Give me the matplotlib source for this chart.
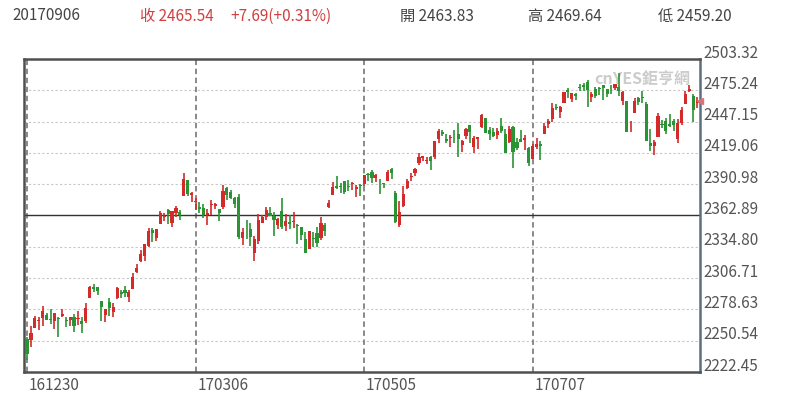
import matplotlib.pyplot as plt
from matplotlib.transforms import ScaledTranslation

plt.rcParams['font.family'] = ['Noto Sans CJK TC', 'DejaVu Sans']

# S&P 500 daily candles, 2016-12-30 .. 2017-09-06 (one row per trading day)
opens = [2251.61, 2251.57, 2261.60, 2268.18, 2271.14, 2273.59, 2269.72, 2268.60, 2271.14, 2272.74,
         2269.14, 2269.14, 2271.90, 2269.96, 2267.78, 2267.88, 2288.88, 2298.63, 2299.02, 2286.01,
         2274.02, 2285.59, 2276.69, 2288.54, 2294.28, 2295.87, 2289.55, 2296.70, 2312.27, 2321.72,
         2326.12, 2335.58, 2349.64, 2343.01, 2354.91, 2361.11, 2367.50, 2355.73, 2365.23, 2366.08,
         2380.13, 2394.75, 2380.92, 2375.23, 2370.74, 2369.81, 2363.49, 2372.52, 2371.56, 2368.55,
         2370.34, 2387.71, 2383.71, 2378.24, 2379.32, 2343.00, 2345.97, 2350.42, 2329.11, 2339.79,
         2356.54, 2361.31, 2364.82, 2362.34, 2354.76, 2366.59, 2353.79, 2356.59, 2357.16, 2353.92,
         2352.15, 2341.98, 2332.62, 2342.53, 2346.79, 2342.69, 2354.74, 2370.33, 2381.51, 2388.98,
         2389.70, 2393.68, 2388.50, 2391.05, 2386.50, 2389.79, 2391.37, 2399.94, 2401.58, 2396.79,
         2394.84, 2392.44, 2393.98, 2404.55, 2382.95, 2354.69, 2371.37, 2387.21, 2397.04, 2401.41,
         2409.54, 2414.50, 2411.67, 2415.63, 2415.65, 2431.28, 2437.83, 2431.92, 2432.03, 2434.27,
         2436.39, 2425.88, 2434.15, 2443.75, 2424.14, 2431.24, 2442.55, 2450.66, 2439.31, 2437.40,
         2434.65, 2443.32, 2436.34, 2428.70, 2442.38, 2429.20, 2431.39, 2430.78, 2423.44, 2413.52,
         2424.51, 2427.35, 2435.75, 2444.99, 2449.16, 2459.50, 2455.88, 2463.85, 2475.56, 2467.40,
         2472.04, 2477.88, 2479.97, 2482.76, 2469.12, 2475.94, 2477.10, 2480.38, 2476.03, 2476.88,
         2477.14, 2478.35, 2465.35, 2465.38, 2441.04, 2454.96, 2468.66, 2468.63, 2462.95, 2427.64,
         2425.50, 2433.75, 2444.88, 2447.91, 2444.72, 2447.35, 2431.94, 2446.06, 2462.65, 2474.42,
         2470.35, 2463.83]
highs = [2253.58, 2263.88, 2272.82, 2271.50, 2282.10, 2275.49, 2279.27, 2275.32, 2271.78, 2278.68,
         2272.08, 2272.01, 2274.33, 2276.96, 2271.78, 2284.63, 2299.55, 2300.99, 2299.02, 2286.01,
         2279.09, 2289.14, 2283.97, 2298.31, 2296.18, 2299.40, 2295.91, 2311.08, 2319.23, 2331.58,
         2337.58, 2351.30, 2351.31, 2351.16, 2366.71, 2365.13, 2368.26, 2367.34, 2371.54, 2367.79,
         2400.98, 2394.75, 2383.89, 2378.80, 2375.12, 2373.09, 2369.08, 2376.86, 2374.42, 2368.55,
         2390.01, 2388.10, 2385.71, 2379.55, 2381.93, 2351.81, 2358.92, 2356.22, 2344.90, 2363.78,
         2363.36, 2370.42, 2370.35, 2365.87, 2360.53, 2378.36, 2364.16, 2363.76, 2366.37, 2355.22,
         2352.72, 2348.26, 2349.14, 2348.35, 2352.63, 2361.37, 2356.18, 2376.98, 2392.48, 2398.16,
         2392.10, 2393.68, 2394.49, 2392.93, 2389.82, 2391.43, 2399.29, 2401.36, 2403.87, 2399.74,
         2395.72, 2392.44, 2404.05, 2405.77, 2384.87, 2375.74, 2389.06, 2395.46, 2400.85, 2405.58,
         2418.71, 2416.68, 2415.26, 2415.99, 2430.06, 2440.23, 2439.55, 2436.21, 2435.28, 2439.27,
         2446.20, 2430.38, 2441.49, 2443.75, 2433.95, 2433.15, 2453.82, 2450.66, 2442.23, 2441.62,
         2441.40, 2450.42, 2440.15, 2442.97, 2442.73, 2432.71, 2439.17, 2434.90, 2424.28, 2426.92,
         2432.00, 2429.30, 2445.76, 2449.32, 2463.54, 2462.82, 2460.92, 2473.83, 2477.62, 2472.54,
         2473.10, 2481.24, 2481.69, 2484.04, 2473.53, 2477.96, 2478.51, 2480.38, 2476.03, 2480.00,
         2480.95, 2490.87, 2474.41, 2465.38, 2448.09, 2468.22, 2468.90, 2474.93, 2465.02, 2440.27,
         2430.58, 2454.77, 2448.91, 2450.39, 2453.96, 2449.12, 2449.19, 2460.31, 2475.01, 2480.38,
         2471.97, 2469.64]
lows = [2233.62, 2245.13, 2261.60, 2260.45, 2264.06, 2268.90, 2265.27, 2260.83, 2254.25, 2271.51,
        2262.81, 2263.35, 2258.41, 2265.01, 2257.02, 2266.68, 2288.88, 2294.08, 2291.62, 2268.04,
        2267.21, 2272.44, 2271.65, 2287.88, 2288.57, 2290.16, 2285.38, 2296.61, 2311.10, 2321.42,
        2322.17, 2334.81, 2338.87, 2339.58, 2354.91, 2358.34, 2355.09, 2352.87, 2361.87, 2358.96,
        2380.13, 2380.17, 2375.39, 2367.98, 2365.51, 2361.01, 2354.54, 2363.04, 2368.52, 2358.18,
        2368.94, 2377.18, 2377.64, 2369.66, 2341.90, 2336.45, 2342.13, 2335.74, 2322.25, 2337.63,
        2356.21, 2358.58, 2362.60, 2344.73, 2350.72, 2350.52, 2348.90, 2350.74, 2351.50, 2337.25,
        2341.18, 2328.95, 2332.51, 2334.54, 2335.05, 2340.91, 2344.51, 2369.19, 2381.15, 2386.78,
        2382.68, 2382.36, 2384.83, 2385.82, 2379.75, 2380.35, 2389.38, 2393.92, 2392.44, 2392.79,
        2381.74, 2387.19, 2393.94, 2396.05, 2356.21, 2352.72, 2370.43, 2386.92, 2393.88, 2397.99,
        2408.01, 2412.20, 2409.43, 2403.59, 2413.54, 2427.71, 2434.32, 2428.12, 2424.75, 2427.94,
        2415.70, 2419.97, 2431.28, 2428.34, 2418.53, 2422.88, 2441.79, 2436.60, 2430.74, 2433.27,
        2431.11, 2437.03, 2419.38, 2428.02, 2405.70, 2421.65, 2428.69, 2422.05, 2407.70, 2413.52,
        2422.27, 2412.79, 2435.75, 2441.69, 2446.69, 2457.16, 2450.34, 2463.85, 2468.43, 2465.06,
        2466.32, 2474.91, 2474.94, 2459.93, 2464.66, 2468.53, 2471.14, 2466.48, 2468.85, 2472.08,
        2475.88, 2470.32, 2462.08, 2437.75, 2437.85, 2454.96, 2461.61, 2463.86, 2430.01, 2420.69,
        2417.35, 2433.67, 2441.42, 2436.19, 2442.22, 2439.03, 2428.20, 2443.77, 2462.65, 2473.85,
        2446.55, 2459.20]
closes = [2238.83, 2257.83, 2270.75, 2269.00, 2276.98, 2268.90, 2268.90, 2275.32, 2270.44, 2274.64,
          2267.89, 2271.89, 2263.69, 2271.31, 2265.20, 2280.07, 2298.37, 2296.68, 2294.69, 2280.90,
          2278.87, 2279.55, 2280.85, 2297.42, 2292.56, 2293.08, 2294.67, 2307.87, 2316.10, 2328.25,
          2337.58, 2349.25, 2347.22, 2351.16, 2365.38, 2362.82, 2363.81, 2367.34, 2369.75, 2363.64,
          2395.96, 2381.92, 2383.12, 2375.31, 2368.39, 2362.98, 2364.87, 2372.60, 2373.47, 2365.45,
          2385.26, 2381.38, 2378.25, 2373.47, 2344.02, 2348.45, 2345.96, 2343.98, 2341.59, 2358.57,
          2361.13, 2368.06, 2362.72, 2358.84, 2360.16, 2352.95, 2357.49, 2355.54, 2357.16, 2353.78,
          2344.93, 2328.95, 2349.01, 2342.19, 2338.17, 2355.84, 2348.69, 2374.15, 2388.61, 2387.45,
          2388.77, 2384.20, 2388.33, 2391.17, 2388.13, 2389.52, 2399.29, 2399.38, 2396.92, 2399.63,
          2394.44, 2390.90, 2402.32, 2400.67, 2357.03, 2365.72, 2381.73, 2394.02, 2398.42, 2404.39,
          2415.07, 2415.82, 2412.91, 2411.80, 2430.06, 2439.07, 2436.10, 2429.33, 2433.14, 2433.79,
          2431.77, 2429.39, 2440.35, 2437.92, 2432.46, 2433.15, 2453.46, 2437.03, 2435.61, 2434.50,
          2438.30, 2439.07, 2419.38, 2440.69, 2419.70, 2423.41, 2429.01, 2432.54, 2409.75, 2425.18,
          2427.43, 2425.53, 2443.25, 2447.83, 2459.27, 2459.14, 2460.61, 2473.83, 2473.45, 2472.54,
          2469.91, 2477.13, 2477.83, 2475.42, 2472.10, 2470.30, 2476.35, 2477.57, 2472.16, 2476.83,
          2480.91, 2474.92, 2474.02, 2438.21, 2441.32, 2465.84, 2464.61, 2468.11, 2430.01, 2425.55,
          2428.37, 2452.51, 2444.04, 2438.97, 2443.05, 2444.24, 2446.30, 2457.59, 2471.65, 2476.55,
          2457.85, 2465.54]

date_labels = ['161230', '170306', '170505', '170707']
date_index = [0, 43, 86, 129]
y_ticks = [2222.45, 2250.54, 2278.63, 2306.71, 2334.80, 2362.89,
           2390.98, 2419.06, 2447.15, 2475.24, 2503.32]
ref_level = 2362.89

RED = '#d42a2a'
GREEN = '#2a9434'

fig = plt.figure(figsize=(8, 4.06), dpi=100)
ax = fig.add_axes([0.03, 0.0813, 0.845, 0.771])

n = len(closes)
x = list(range(n))
cols = [RED if c >= o else GREEN for o, c in zip(opens, closes)]
ax.vlines(x, lows, highs, colors=cols, linewidth=1.2, zorder=3)
bottoms = [min(o, c) for o, c in zip(opens, closes)]
heights = [max(abs(c - o), 0.7) for o, c in zip(opens, closes)]
ax.bar(x, heights, bottom=bottoms, width=0.8, color=cols, linewidth=0, zorder=4)

ax.set_xlim(-0.77, 171.7)
ax.set_ylim(y_ticks[0], y_ticks[-1])

for v in y_ticks[1:-1]:
    ax.axhline(v, color='#c8c8c8', linestyle=(0, (2, 2)), linewidth=0.8, zorder=1)
ax.axhline(ref_level, color='#333333', linewidth=1.0, zorder=2)
for i in date_index:
    ax.axvline(i, color='#808080', linestyle=(0, (3, 2)), linewidth=1.3, zorder=1)

ax.set_xticks([])
ax.set_yticks([])
for side in ['left', 'top', 'bottom']:
    ax.spines[side].set_color('#505050')
    ax.spines[side].set_linewidth(1.8)
ax.spines['right'].set_color('#5a7080')
ax.spines['right'].set_linewidth(1.8)

up = ScaledTranslation(0, 5 / 72, fig.dpi_scale_trans)
for v in y_ticks:
    ax.text(1.005, v, f'{v:.2f}', transform=ax.get_yaxis_transform() + up,
            ha='left', va='center', fontsize=11, color='#555555', clip_on=False)
for i, lab in zip(date_index, date_labels):
    ax.text(i + 0.4, -0.012, lab, transform=ax.get_xaxis_transform(),
            ha='left', va='top', fontsize=11, color='#555555')

# last close marker on the right edge
ax.plot([1.0], [closes[-1]], marker='<', markersize=4, color='#e07070',
        transform=ax.get_yaxis_transform(), clip_on=False, zorder=6)

ax.text(0.985, 0.965, 'cnYES鉅亨網', transform=ax.transAxes, ha='right', va='top',
        fontsize=11.5, fontweight='bold', color='#cccccc', zorder=0)

# header line
hy = 1 - 16 / 406
fig.text(12 / 800, hy, '20170906', fontsize=11, color='#444444', va='center')
fig.text(140 / 800, hy, '收 2465.54', fontsize=11, color='#d04040', va='center')
fig.text(230 / 800, hy, '+7.69(+0.31%)', fontsize=11, color='#d04040', va='center')
fig.text(400 / 800, hy, '開 2463.83', fontsize=11, color='#444444', va='center')
fig.text(528 / 800, hy, '高 2469.64', fontsize=11, color='#444444', va='center')
fig.text(658 / 800, hy, '低 2459.20', fontsize=11, color='#444444', va='center')

fig.savefig('out.png', dpi=100)
